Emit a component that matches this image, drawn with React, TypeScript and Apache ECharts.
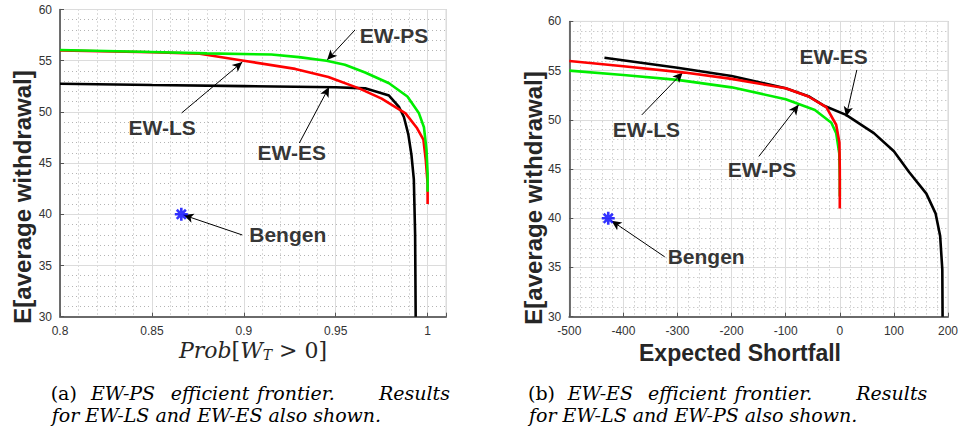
import React, { useEffect, useRef } from 'react';
import * as echarts from 'echarts';

// ---------- data: left panel (x = Prob[W_T > 0], y = E[average withdrawal]) ----------
const leftPS: [number, number][] = [
  [0.8, 56.05], [0.85, 55.85], [0.88, 55.72], [0.915, 55.6], [0.93, 55.35], [0.945, 55.0],
  [0.955, 54.6], [0.966, 53.85], [0.979, 52.8], [0.989, 51.5], [0.9952, 49.9], [0.998, 48.5],
  [0.9994, 46.3], [1.0, 44.0], [1.0, 42.2],
];
const leftLS: [number, number][] = [
  [0.8, 56.0], [0.85, 55.83], [0.876, 55.68], [0.9, 55.0], [0.928, 54.2], [0.946, 53.4],
  [0.9627, 52.3], [0.975, 51.3], [0.988, 49.86], [0.9943, 48.4], [0.9977, 47.3], [0.999, 45.3],
  [1.0, 43.0], [1.0, 41.0],
];
const leftES: [number, number][] = [
  [0.8, 52.75], [0.85, 52.62], [0.9, 52.52], [0.95, 52.4], [0.966, 52.3], [0.979, 51.6],
  [0.9844, 50.5], [0.9871, 49.5], [0.9895, 47.8], [0.9912, 45.8], [0.9925, 43.4], [0.9932, 38.0],
  [0.9935, 30.0],
];
const leftBengen: [number, number][] = [[0.866, 40]];

// ---------- data: right panel (x = Expected Shortfall) ----------
const rightES: [number, number][] = [
  [-435, 56.3], [-300, 55.3], [-200, 54.45], [-100, 53.2], [-58, 52.4], [-28, 51.4], [11.6, 50.5],
  [63, 48.65], [100, 46.8], [128, 44.7], [160, 42.5], [177, 40.5], [185.5, 38.2], [189.5, 34.8],
  [190, 30],
];
const rightLS: [number, number][] = [
  [-500, 55.98], [-400, 55.45], [-287, 54.8], [-200, 54.16], [-100, 53.2], [-58, 52.37],
  [-25, 51.29], [-6.7, 49.5], [-0.7, 47.7], [0, 45.0], [0, 41.0],
];
const rightPS: [number, number][] = [
  [-500, 55.0], [-400, 54.55], [-300, 54.06], [-200, 53.3], [-100, 52.1], [-46, 51.0],
  [-15.6, 49.7], [-6.7, 48.65], [-1, 46.6], [0, 44.0], [0, 42.2],
];
const rightBengen: [number, number][] = [[-428, 40]];

// ---------- texts ----------
const labelNames = ['EW-PS', 'EW-LS', 'EW-ES', 'Bengen'];
const yAxisTitle = 'E[average withdrawal]';
const rightXTitle = 'Expected Shortfall';
const captionAWords = ['(a)', 'EW-PS', 'efficient', 'frontier.', 'Results'];
const captionA2 = 'for EW-LS and EW-ES also shown.';
const captionBWords = ['(b)', 'EW-ES', 'efficient', 'frontier.', 'Results'];
const captionB2 = 'for EW-LS and EW-PS also shown.';

// annotation layout (data coordinates)
const leftLabelPos: [number, number][] = [[0.9817, 57.5], [0.8556, 48.43], [0.9261, 45.99], [0.9239, 37.98]];
const leftArrows: [[number, number], [number, number]][] = [
  [[0.9605, 58.0], [0.9453, 55.07]],
  [[0.8662, 49.9], [0.8992, 54.87]],
  [[0.9302, 46.96], [0.9464, 52.43]],
  [[0.8992, 37.98], [0.8672, 39.93]],
];
const rightLabelPos: [number, number][] = [[-143.7, 44.93], [-357.4, 48.99], [-11.4, 56.42], [-247, 36.08]];
const rightArrows: [[number, number], [number, number]][] = [
  [[-149.6, 46.28], [-76.1, 51.52]],
  [[-366, 50.5], [-290.4, 54.8]],
  [[31.5, 55.07], [11.6, 50.33]],
  [[-323.6, 36.08], [-422, 39.75]],
];

const SANS = '"Liberation Sans", Arial, sans-serif';
const SERIF = '"DejaVu Serif", serif';

const majorGrid = { show: true, lineStyle: { color: '#dcdcdc', width: 1, type: 'solid' as const } };
const minorGrid = { show: true, lineStyle: { color: '#b4b4b4', width: 1, type: [1, 3] as any } };
const tickLabel = { color: '#333', fontSize: 12, fontFamily: SANS, margin: 8 };

function lineSeries(data: [number, number][], color: string, xi: number, yi: number, z: number) {
  return {
    type: 'line',
    data,
    xAxisIndex: xi,
    yAxisIndex: yi,
    showSymbol: false,
    symbol: 'none',
    lineStyle: { color, width: 2.6 },
    z,
    silent: true,
  };
}

function annotationSeries(pos: [number, number][], arrows: [[number, number], [number, number]][], xi: number, yi: number) {
  return {
    type: 'scatter',
    xAxisIndex: xi,
    yAxisIndex: yi,
    symbolSize: 1,
    itemStyle: { color: 'transparent' },
    silent: true,
    z: 10,
    data: pos.map((p, i) => ({ name: labelNames[i], value: p })),
    label: {
      show: true,
      position: 'inside',
      formatter: '{b}',
      fontSize: 21,
      fontWeight: 'bold',
      fontFamily: SANS,
      color: '#000',
    },
    markLine: {
      silent: true,
      symbol: ['none', 'arrow'],
      symbolSize: [7, 10],
      lineStyle: { color: '#000', width: 1, type: 'solid' },
      label: { show: false },
      emphasis: { disabled: true },
      data: arrows.map(([a, b]) => [{ coord: a }, { coord: b }]),
    },
  };
}

function bengenSeries(data: [number, number][], xi: number, yi: number) {
  return {
    type: 'scatter',
    xAxisIndex: xi,
    yAxisIndex: yi,
    data,
    symbol: 'path://M0,-10L0,10M-10,0L10,0M-7,-7L7,7M-7,7L7,-7',
    symbolSize: 13,
    itemStyle: { color: 'transparent', borderColor: '#0000ff', borderWidth: 2.6 },
    silent: true,
    z: 12,
  };
}

function minorAxis(gridIndex: number, min: number, max: number, interval: number, position: string) {
  return {
    type: 'value', gridIndex, min, max, interval, position,
    axisLine: { show: false }, axisTick: { show: false }, axisLabel: { show: false },
    splitLine: minorGrid,
    z: 0,
  };
}

function majorAxis(gridIndex: number, min: number, max: number, interval: number, position: string, lineColor: string, lineWidth: number, formatter?: any) {
  return {
    type: 'value', gridIndex, min, max, interval, position,
    axisLine: { show: true, onZero: false, lineStyle: { color: lineColor, width: lineWidth } },
    axisTick: { show: true, inside: true, length: 4, lineStyle: { color: '#555' } },
    axisLabel: formatter ? { ...tickLabel, formatter } : tickLabel,
    splitLine: majorGrid,
    z: 1,
  };
}

function captionLine1(words: string[], x0: number, y: number) {
  // justified first caption line: word anchors relative to caption start
  const anchors: [number, string][] = [[0, 'left'], [72.3, 'center'], [159.3, 'center'], [245.3, 'center'], [399.3, 'right']];
  return words.map((w, i) => ({
    type: 'text', x: x0 + anchors[i][0], y,
    style: {
      text: w,
      font: `${i === 0 ? '' : 'italic '}19px ${SERIF}`,
      fill: '#000',
      align: anchors[i][1],
      verticalAlign: 'middle',
    },
  }));
}

export default function App() {
  const ref = useRef<HTMLDivElement>(null);
  useEffect(() => {
    if (!ref.current) return;
    const chart = echarts.init(ref.current, undefined, { renderer: 'svg' });
    const leftFormatter = (v: number) => {
      const k = Math.round(v / 0.05);
      return Math.abs(k * 0.05 - v) < 1e-6 ? String(+v.toFixed(2)) : '';
    };
    const option: any = {
      animation: false,
      backgroundColor: '#fff',
      grid: [
        { left: 60, top: 9.5, width: 386, height: 307.2, show: true, borderColor: '#d8d8d8', borderWidth: 1 },
        { left: 569.3, top: 21.4, width: 386.4, height: 295.3, show: true, borderColor: '#d8d8d8', borderWidth: 1 },
      ],
      xAxis: [
        minorAxis(0, 0.8, 1.01, 0.01, 'bottom'),
        majorAxis(0, 0.8, 1.01, 0.05, 'bottom', '#6a6a6a', 2, leftFormatter),
        minorAxis(1, -500, 200, 20, 'bottom'),
        majorAxis(1, -500, 200, 100, 'bottom', '#6a6a6a', 2),
      ],
      yAxis: [
        minorAxis(0, 30, 60, 1, 'left'),
        majorAxis(0, 30, 60, 5, 'left', '#444', 1.5),
        minorAxis(1, 30, 60, 1, 'left'),
        majorAxis(1, 30, 60, 5, 'left', '#444', 1.5),
      ],
      series: [
        lineSeries(leftES, '#000000', 1, 1, 3),
        lineSeries(leftLS, '#ff0000', 1, 1, 4),
        lineSeries(leftPS, '#00ee00', 1, 1, 5),
        bengenSeries(leftBengen, 1, 1),
        annotationSeries(leftLabelPos, leftArrows, 1, 1),
        lineSeries(rightES, '#000000', 3, 3, 3),
        lineSeries(rightPS, '#00ee00', 3, 3, 4),
        lineSeries(rightLS, '#ff0000', 3, 3, 5),
        bengenSeries(rightBengen, 3, 3),
        annotationSeries(rightLabelPos, rightArrows, 3, 3),
      ],
      graphic: [
        {
          type: 'text', x: 22, y: 197, rotation: Math.PI / 2,
          style: { text: yAxisTitle, font: `bold 24px ${SANS}`, fill: '#262626', align: 'center', verticalAlign: 'middle' },
        },
        {
          type: 'text', x: 533, y: 198, rotation: Math.PI / 2,
          style: { text: yAxisTitle, font: `bold 24px ${SANS}`, fill: '#262626', align: 'center', verticalAlign: 'middle' },
        },
        {
          type: 'text', x: 740, y: 353,
          style: { text: rightXTitle, font: `bold 23px ${SANS}`, fill: '#262626', align: 'center', verticalAlign: 'middle' },
        },
        {
          type: 'text', x: 253, y: 350,
          style: {
            text: '{i|Prob}{u|[}{i|W}{s|T}{u| > 0]}',
            align: 'center',
            verticalAlign: 'middle',
            fill: '#262626',
            rich: {
              i: { font: `italic 22px ${SERIF}`, fill: '#262626', lineHeight: 24, verticalAlign: 'middle' },
              u: { font: `22px ${SERIF}`, fill: '#262626', lineHeight: 24, verticalAlign: 'middle' },
              s: { font: `italic 14px ${SERIF}`, fill: '#262626', lineHeight: 24, verticalAlign: 'bottom', padding: [0, 0, 0, 0] },
            },
          },
        },
        ...captionLine1(captionAWords, 50.7, 393),
        {
          type: 'text', x: 51.7, y: 415,
          style: { text: captionA2, font: `italic 19px ${SERIF}`, fill: '#000', verticalAlign: 'middle' },
        },
        ...captionLine1(captionBWords, 528, 393),
        {
          type: 'text', x: 529, y: 415,
          style: { text: captionB2, font: `italic 19px ${SERIF}`, fill: '#000', verticalAlign: 'middle' },
        },
      ],
    };
    chart.setOption(option);
    return () => chart.dispose();
  }, []);
  return (
    <div
      ref={ref}
      style={{ position: 'absolute', left: 0, top: 0, width: 961, height: 427, background: '#fff' }}
    />
  );
}
